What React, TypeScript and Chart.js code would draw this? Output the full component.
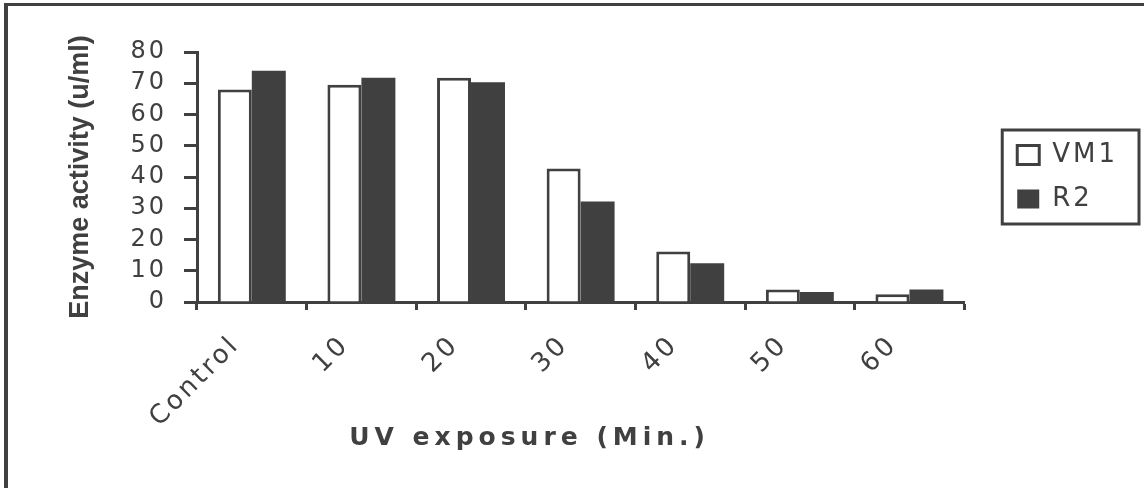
import React, { useEffect, useRef } from "react";
import { Chart, registerables } from "chart.js";

Chart.register(...registerables);

const categories = ["Control", "10", "20", "30", "40", "50", "60"];
const vm1Values = [68, 69.5, 71.8, 42.7, 16.2, 4.0, 2.5];
const r2Values = [74, 71.8, 70.3, 32.2, 12.4, 3.2, 4.0];
const yTickMin = 0;
const yTickMax = 80;
const yTickStep = 10;

const INK = "#404040";

function patchTitle(scale: any, spacing: string, shiftX: number) {
  if (!scale || scale.__patched) return;
  const orig = scale.drawTitle;
  scale.drawTitle = function (...args: any[]) {
    const c = this.ctx;
    const prev = c.letterSpacing;
    c.save();
    c.letterSpacing = spacing;
    c.translate(shiftX, 0);
    orig.apply(this, args);
    c.restore();
    c.letterSpacing = prev;
  };
  scale.__patched = true;
}

const decorPlugin = {
  id: "decor",
  beforeDraw(chart: any) {
    const ctx = chart.ctx;
    ctx.save();
    ctx.fillStyle = INK;
    ctx.fillRect(4, 3, chart.width - 4, 3);
    ctx.fillRect(4, 3, 4, chart.height - 3);
    ctx.restore();
    patchTitle(chart.scales.x, "5px", -51);
    patchTitle(chart.scales.y, "0px", 0);
    ctx.letterSpacing = "3px";
  },
  afterDraw(chart: any) {
    const ctx = chart.ctx;
    ctx.letterSpacing = "0px";
    const lg = chart.legend;
    if (!lg || !lg.legendHitBoxes || !lg.legendHitBoxes.length) return;
    const hb = lg.legendHitBoxes;
    let l = Infinity, r = -Infinity, t = Infinity, b = -Infinity;
    for (const h of hb) {
      l = Math.min(l, h.left);
      r = Math.max(r, h.left + h.width);
      t = Math.min(t, h.top);
      b = Math.max(b, h.top + h.height);
    }
    ctx.save();
    ctx.strokeStyle = INK;
    ctx.lineWidth = 3;
    ctx.strokeRect(l - 15, t - 12, r - l + 45, b - t + 24);
    ctx.restore();
  },
};

export default function App() {
  const canvasRef = useRef<HTMLCanvasElement | null>(null);

  useEffect(() => {
    if (!canvasRef.current) return;
    const chart = new Chart(canvasRef.current, {
      type: "bar",
      data: {
        labels: categories,
        datasets: [
          {
            label: "VM1",
            data: vm1Values,
            backgroundColor: "#ffffff",
            borderColor: INK,
            borderWidth: 3,
            borderSkipped: "bottom",
            yAxisID: "y",
          },
          {
            label: "R2",
            data: r2Values,
            backgroundColor: INK,
            borderColor: INK,
            borderWidth: 0,
            yAxisID: "y",
          },
        ],
      },
      options: {
        animation: false,
        responsive: true,
        maintainAspectRatio: false,
        layout: { padding: { left: 12, top: 52, right: 25, bottom: 0 } },
        datasets: {
          bar: { barPercentage: 1, categoryPercentage: 0.62 },
        },
        plugins: {
          tooltip: { enabled: false },
          legend: {
            display: true,
            position: "right",
            fullSize: false,
            labels: {
              boxWidth: 22,
              boxHeight: 19,
              padding: 18,
              color: INK,
              font: { family: "'DejaVu Sans', sans-serif", size: 26 },
            },
          },
        },
        scales: {
          x: {
            offset: true,
            afterFit: (s: any) => {
              s.height = 186;
            },
            grid: {
              display: true,
              offset: true,
              drawOnChartArea: false,
              drawTicks: true,
              tickLength: 8,
              tickWidth: 3,
              tickColor: INK,
            },
            border: { display: true, color: INK, width: 3 },
            ticks: {
              autoSkip: false,
              minRotation: 45,
              maxRotation: 45,
              padding: 20,
              labelOffset: -16,
              color: INK,
              font: { family: "'DejaVu Sans', sans-serif", size: 26 },
            },
            title: {
              display: true,
              text: "UV exposure (Min.)",
              color: INK,
              padding: { top: 0, bottom: 35 },
              font: { family: "'DejaVu Sans', sans-serif", size: 25, weight: "bold" },
            },
          },
          y: {
            min: yTickMin,
            max: yTickMax,
            afterFit: (s: any) => {
              s.width = 185;
            },
            grid: {
              display: true,
              drawOnChartArea: false,
              drawTicks: true,
              tickLength: 13,
              tickWidth: 3,
              tickColor: INK,
            },
            border: { display: true, color: INK, width: 3 },
            ticks: {
              stepSize: yTickStep,
              autoSkip: false,
              padding: 17,
              color: INK,
              font: { family: "'DejaVu Sans', sans-serif", size: 24 },
            },
            title: {
              display: true,
              text: "Enzyme activity (u/ml)",
              color: INK,
              padding: { top: 52, bottom: 0 },
              font: {
                family: "'Liberation Sans', Arial, sans-serif",
                size: 27,
                weight: "bold",
              },
            },
          },
          y2: {
            type: "linear",
            position: "right",
            display: true,
            min: 0,
            max: 1,
            afterFit: (s: any) => {
              s.width = 35;
            },
            grid: { display: false },
            border: { display: false },
            ticks: { display: false },
          },
        },
      },
      plugins: [decorPlugin],
    } as any);
    return () => chart.destroy();
  }, []);

  return (
    <div style={{ position: "absolute", left: 0, top: 0, width: 1144, height: 488, background: "#fff" }}>
      <canvas ref={canvasRef} />
    </div>
  );
}
